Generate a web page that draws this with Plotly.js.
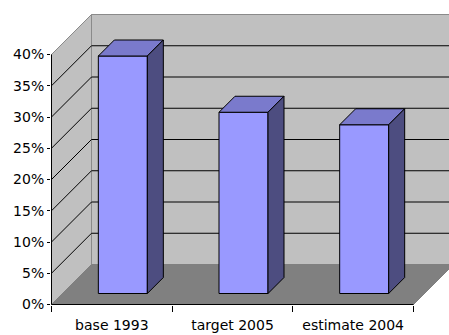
<!DOCTYPE html>
<html><head><meta charset="utf-8">
<script src="https://cdn.plot.ly/plotly-3.0.1.min.js"></script>
<style>html,body{margin:0;padding:0;background:#fff;}#chart{width:449px;height:335px;}</style>
</head><body><div id="chart"></div>
<script>
// ---- data ----
const categories = ['base 1993', 'target 2005', 'estimate 2004'];
const values = [38, 29, 27];
const yTickValues = [0, 5, 10, 15, 20, 25, 30, 35, 40];
const yTickLabels = ['0%', '5%', '10%', '15%', '20%', '25%', '30%', '35%', '40%'];
const gridValues = [5, 10, 15, 20, 25, 30, 35];
const yMax = 40;

// ---- geometry (oblique 3D projection, in axis units) ----
const PX_PER_CAT = 120.67, PX_PER_PCT = 6.25;
const DX = 40 / PX_PER_CAT, DY = 40 / PX_PER_PCT;
const BAR_FRONT = 0.275, BAR_BACK = 0.675;
const BAR_W = 49 / PX_PER_CAT;
const N = categories.length;

function poly(xs, ys, fill, line, w) {
  return {type: 'scatter', mode: 'lines', x: xs.concat([xs[0]]), y: ys.concat([ys[0]]),
    fill: 'toself', fillcolor: fill, line: {color: line, width: w},
    hoverinfo: 'skip', showlegend: false};
}

const traces = [];
// back wall
traces.push(poly([DX, DX, N + DX, N + DX], [DY, yMax + DY, yMax + DY, DY], '#C0C0C0', '#8A8A8A', 1));
// left wall
traces.push(poly([0, DX, DX, 0], [0, DY, yMax + DY, yMax], '#C0C0C0', '#8A8A8A', 1));
// floor
traces.push(poly([0, DX, N + DX, N], [0, DY, DY, 0], '#808080', '#808080', 1));
// gridlines
const gx = [], gy = [];
gridValues.forEach(v => {
  gx.push(0, DX, N + DX, null);
  gy.push(v, v + DY, v + DY, null);
});
traces.push({type: 'scatter', mode: 'lines', x: gx, y: gy, line: {color: '#000', width: 1},
  hoverinfo: 'skip', showlegend: false, connectgaps: false});
// bars
values.forEach((v, i) => {
  const c = i + 0.5;
  const xf0 = c - BAR_W / 2 + BAR_FRONT * DX, xf1 = xf0 + BAR_W;
  const xb0 = c - BAR_W / 2 + BAR_BACK * DX, xb1 = xb0 + BAR_W;
  const yf = BAR_FRONT * DY, yb = BAR_BACK * DY;
  const tf = v + yf, tb = v + yb;
  traces.push(poly([xf0, xf1, xf1, xf0], [yf, yf, tf, tf], '#9999FF', '#000', 1));
  traces.push(poly([xf0, xf1, xb1, xb0], [tf, tf, tb, tb], '#7A7ACC', '#000', 1));
  traces.push(poly([xf1, xb1, xb1, xf1], [yf, yb, tb, tf], '#4D4D80', '#000', 1));
});
// axis lines
traces.push({type: 'scatter', mode: 'lines', x: [0, 0, N], y: [yMax, 0, 0],
  line: {color: '#000', width: 1}, hoverinfo: 'skip', showlegend: false});
// empty trace to activate boundary-tick axis
traces.push({type: 'scatter', mode: 'lines', x: [], y: [], xaxis: 'x2', yaxis: 'y', showlegend: false});

const xRange = [-0.5 / PX_PER_CAT, (449 - 51.5) / PX_PER_CAT];
const yRange = [-0.5 / PX_PER_PCT, (304.5 - 14) / PX_PER_PCT];
const font = {family: 'DejaVu Sans, Verdana, sans-serif', size: 14, color: '#000'};
const boundaries = categories.map((_, i) => i).concat([N]);

const layout = {
  width: 449, height: 335,
  margin: {l: 51, r: 0, t: 14, b: 30, autoexpand: false},
  paper_bgcolor: '#fff', plot_bgcolor: 'rgba(0,0,0,0)',
  showlegend: false,
  font: font,
  xaxis: {range: xRange, tickmode: 'array', tickvals: categories.map((_, i) => i + 0.5), ticktext: categories,
    ticks: 'outside', ticklen: 7, tickcolor: 'rgba(0,0,0,0)', showgrid: false, zeroline: false, showline: false,
    tickfont: font, fixedrange: true},
  xaxis2: {overlaying: 'x', anchor: 'y', side: 'bottom', range: xRange, tickmode: 'array', tickvals: boundaries,
    ticks: 'outside', ticklen: 6, tickwidth: 1, tickcolor: '#000', showticklabels: false,
    showgrid: false, zeroline: false, showline: false, fixedrange: true},
  yaxis: {range: yRange, tickmode: 'array', tickvals: yTickValues, ticktext: yTickLabels,
    ticks: 'outside', ticklen: 3, tickwidth: 1, tickcolor: '#000', showgrid: false, zeroline: false,
    showline: false, tickfont: font, fixedrange: true}
};

Plotly.newPlot('chart', traces, layout, {staticPlot: true, displayModeBar: false});
</script>
</body></html>
